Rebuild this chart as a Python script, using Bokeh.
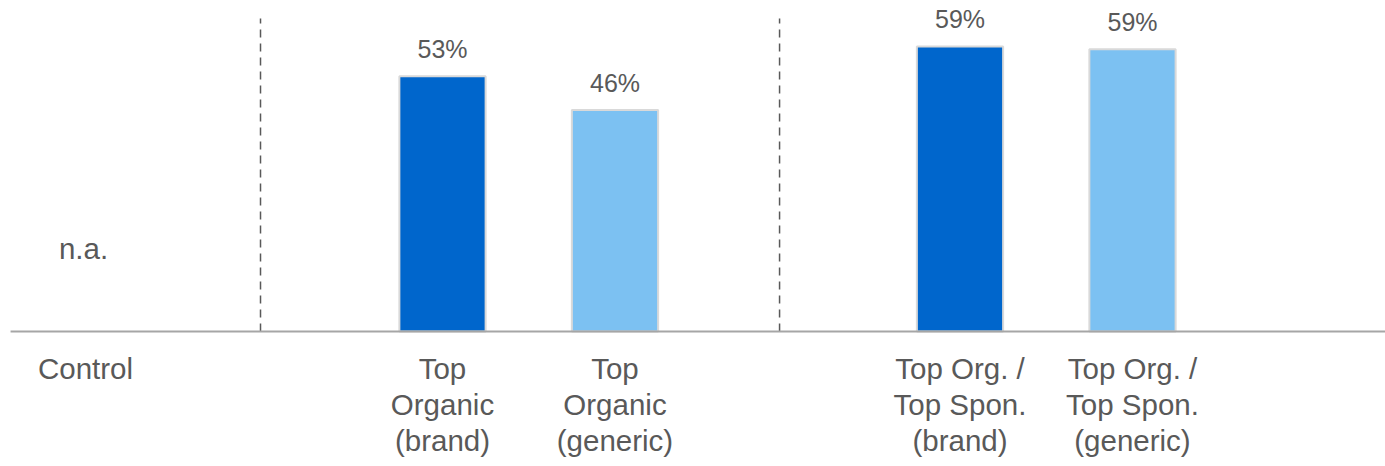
from bokeh.plotting import figure
from bokeh.models import ColumnDataSource, Range1d
from bokeh.core.properties import value
from bokeh.embed import file_html
from bokeh.resources import INLINE

# --- data -------------------------------------------------------------
categories = ["Top\nOrganic\n(brand)", "Top\nOrganic\n(generic)",
              "Top Org. /\nTop Spon.\n(brand)", "Top Org. /\nTop Spon.\n(generic)"]
shares = [53.0, 46.0, 59.2, 58.6]          # percent
kinds = ["brand", "generic", "brand", "generic"]
control_label = "Control"
control_value = "n.a."

# --- layout -----------------------------------------------------------
slots = [2, 3, 5, 6]                      # x slot of each bar; control sits at slot 0
dividers = [0.945, 3.954]                  # dashed group separators
colors = {"brand": "#0066CC", "generic": "#7CC1F2"}
TEXT = "#595959"
FONT = value("Liberation Sans")

src = ColumnDataSource(dict(
    x=slots,
    top=shares,
    cat=categories,
    color=[colors[k] for k in kinds],
    label=[f"{round(v)}%" for v in shares],
))

p = figure(width=1385, height=466, output_backend="svg", toolbar_location=None,
           x_range=Range1d(-0.5623, 7.4667), y_range=Range1d(-28.04, 68.74),
           min_border=0, outline_line_color=None)
p.axis.visible = False
p.grid.visible = False
p.background_fill_color = "white"
p.border_fill_color = "white"

# group separators
for d in dividers:
    p.segment(x0=d, y0=0, x1=d, y1=65.0, line_color=TEXT, line_width=1.5,
              line_dash="8 6")

# bars
p.vbar(x="x", top="top", bottom=0, width=0.5, source=src,
       fill_color="color", line_color="#D9D9D9", line_width=2)

# baseline
p.segment(x0=-0.504, y0=0, x1=7.4667, y1=0, line_color="#A6A6A6", line_width=2)

# value labels
p.text(x="x", y="top", text="label", source=src, text_font=FONT,
       text_font_size="25px", text_color=TEXT, text_align="center",
       text_baseline="middle", y_offset=-27)

# category labels
p.text(x="x", y=0, text="cat", source=src, text_font=FONT,
       text_font_size="29.5px", text_color=TEXT, text_align="center",
       text_baseline="top", y_offset=21, text_line_height=1.08)

# control column
p.text(x=[0], y=[0], text=[control_label], text_font=FONT,
       text_font_size="29.5px", text_color=TEXT, text_align="center",
       text_baseline="top", y_offset=21, x_offset=-12)
p.text(x=[0], y=[0], text=[control_value], text_font=FONT,
       text_font_size="29.5px", text_color=TEXT, text_align="center",
       text_baseline="alphabetic", y_offset=-83, x_offset=-14)

open("out.html", "w").write(file_html(p, INLINE))
